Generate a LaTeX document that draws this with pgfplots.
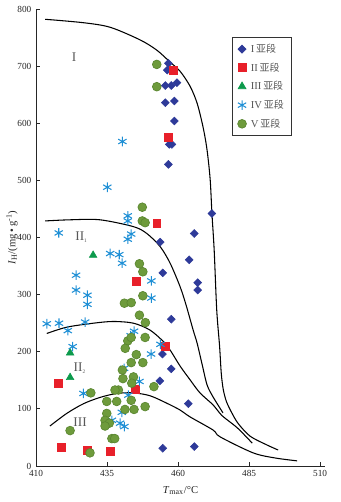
\documentclass[border=0pt]{standalone}
\usepackage{pgfplots}
\pgfplotsset{compat=1.18}
\usepackage{fontspec}
\setmainfont{Liberation Serif}
\newfontfamily\cjk{Noto Sans CJK SC}
\definecolor{cI}{HTML}{2E3A99}
\definecolor{cII}{HTML}{E8202A}
\definecolor{cIII}{HTML}{0C9A4C}
\definecolor{cIV}{HTML}{1E8FD5}
\definecolor{cV}{HTML}{6E9B3C}
\definecolor{cVe}{HTML}{5A8630}
\definecolor{lab}{HTML}{585858}
\newcommand{\ya}{{\cjk\fontsize{7.5}{8}\selectfont 亚段}}
\begin{document}
\begin{tikzpicture}
\begin{axis}[
  scale only axis,
  width=216.75bp, height=342.75bp,
  xmin=410, xmax=511.7, ymin=0, ymax=800,
  axis x line*=bottom, axis y line*=left,
  xtick={410,435,460,485,510},
  ytick={0,100,200,300,400,500,600,700,800},
  tick align=inside,
  major tick length=3bp,
  axis line style={black!85, line width=0.6pt},
  tick style={black!85, line width=0.6pt},
  /pgf/number format/assume math mode=true,
  ticklabel style={font=\fontsize{7}{8}\selectfont, text=black!85},
  xlabel={\textit{T}\textsubscript{max}/°C},
  ylabel={\textit{I}\textsubscript{H}/(mg\,•\,g\textsuperscript{-1})},
  xlabel style={at={(axis description cs:0.5,-0.053)}, anchor=center, font=\fontsize{8}{9}\selectfont, text=black!85},
  ylabel style={at={(axis description cs:-0.083,0.5)}, anchor=center, font=\fontsize{8}{9}\selectfont, text=black!85},
  clip=false,
  legend style={at={(0.678,0.939)}, anchor=north west, draw=black!80, line width=0.6pt,
    font=\fontsize{8}{9}\selectfont, text=lab, row sep=2.2bp, inner xsep=4bp, inner ysep=3bp,
    cells={anchor=west}},
  legend cell align=left,
]
% I
\addplot[only marks, mark=square*, mark size=2.1pt, mark options={rotate=45, fill=cI, draw=cI}] coordinates {
(456.6,705) (456.2,693) (455.5,666) (457.6,666) (459.6,671) (455.5,636) (458.7,639)
(458.7,604) (456.9,563) (457.8,563) (456.6,528) (453.7,392) (471.9,442) (465.7,407)
(463.9,361) (466.9,321) (466.9,308) (454.6,338) (457.6,257) (454.5,196) (457.6,170)
(453.6,149) (463.6,109) (454.6,31) (465.7,34)
};
\addlegendentry{\,I\,\ya}
% II
\addplot[only marks, mark=square*, mark size=3pt, mark options={fill=cII, draw=cII}] coordinates {
(458.3,692) (456.6,575) (452.5,425) (445.3,324) (455.6,209) (444.8,134)
(418.0,145) (418.9,33) (428.1,27) (436.3,26)
};
\addlegendentry{\,II\,\ya}
% III
\addplot[only marks, mark=triangle*, mark size=3.3pt, mark options={fill=cIII, draw=cIII}] coordinates {
(430.1,369) (422.0,198) (422.0,155)
};
\addlegendentry{\,III\,\ya}
% IV
\addplot[only marks, mark=asterisk, mark size=3.6pt, mark options={draw=cIV, line width=0.8pt}] coordinates {
(440.4,568) (435.1,488) (418.0,408) (442.3,438) (442.3,429) (442.3,397) (443.5,406)
(436.1,372) (439.3,370) (440.3,355) (424.1,334) (424.1,308) (428.1,299) (428.1,283)
(413.8,249) (418.1,250) (421.2,237) (427.3,252) (422.9,209) (426.7,127) (450.6,324)
(450.6,294) (444.5,236) (443.3,228) (450.5,196) (453.8,213) (446.4,148) (441.0,171)
(442.5,124) (439.6,75) (441.1,69) (440.2,94) (436.7,80)
};
\addlegendentry{\,IV\,\ya}
% V
\addplot[only marks, mark=*, mark size=3.3pt, mark options={fill=cV, draw=cVe, line width=0.5pt}] coordinates {
(452.5,703) (452.5,664) (447.4,453) (447.4,429) (448.4,426)
(446.4,354) (447.6,340) (447.6,298) (441.1,285) (443.5,286) (446.4,264) (448.5,251)
(448.4,225) (442.3,219) (441.4,206) (443.5,225) (445.3,195) (443.5,181) (447.6,181)
(440.4,168) (440.6,153) (444.3,156) (443.7,145) (439.0,133) (437.8,133) (451.5,139)
(429.3,128) (434.9,113) (438.4,113) (443.5,115) (441.3,99) (444.5,99) (448.4,104)
(434.9,92) (434.3,80) (435.8,75) (434.3,70) (436.7,48) (437.7,48) (422.0,62) (429.0,23)
};
\addlegendentry{\,V\,\ya}
% curves
\addplot[black, line width=0.8pt, smooth, forget plot] coordinates {
(413.2,782) (426.7,776) (436.1,768) (446.6,746) (452.5,728) (457.2,707) (460.7,691)
(464.2,665) (466.7,635) (468.8,593) (470.2,553) (471.3,501) (471.9,443) (472.7,378)
(473.6,273) (474.6,210) (475.2,162) (475.9,134) (477.0,113) (478.8,94) (481.2,74)
(485.4,52) (491.2,37) (495.2,28)
};
\addplot[black, line width=0.8pt, smooth, forget plot] coordinates {
(413.2,429) (422.0,431) (432.5,431) (444.3,419) (449.0,407) (453.7,384) (457.2,355)
(460.7,314) (462.8,282) (465.3,238) (466.7,215) (468.5,177) (470.2,142) (472.3,121)
(475.8,93)
};
\addplot[black, line width=0.8pt, smooth, forget plot] coordinates {
(413.8,232) (420.8,243) (430.2,250) (437.2,253) (444.3,250) (450.1,238) (454.8,218)
(457.2,203) (460.7,175) (464.2,151) (467.7,128) (472.3,107) (475.5,88) (480.8,67)
(486.1,40)
};
\addplot[black, line width=0.8pt, smooth, forget plot] coordinates {
(414.9,70) (420.8,92) (426.7,109) (432.5,120) (438.4,127) (444.3,128) (450.1,123)
(456.0,110) (460.7,98) (464.2,86) (472.3,63) (474.8,51) (486.4,23) (494.2,14) (501.9,9)
};
% region labels
\node[text=lab, font=\fontsize{10}{11}\selectfont] at (axis cs:423.4,715) {I};
\node[text=lab, font=\fontsize{10}{11}\selectfont] at (axis cs:426.0,400) {II\textsubscript{\fontsize{4}{5}\selectfont 1}};
\node[text=lab, font=\fontsize{10}{11}\selectfont] at (axis cs:425.4,171) {II\textsubscript{\fontsize{4}{5}\selectfont 2}};
\node[text=lab, font=\fontsize{10}{11}\selectfont] at (axis cs:425.5,76) {III};
\end{axis}
\path (current axis.south west) ++(-27bp,-27bp) rectangle ++(255.75bp,376.5bp);
\end{tikzpicture}
\end{document}
